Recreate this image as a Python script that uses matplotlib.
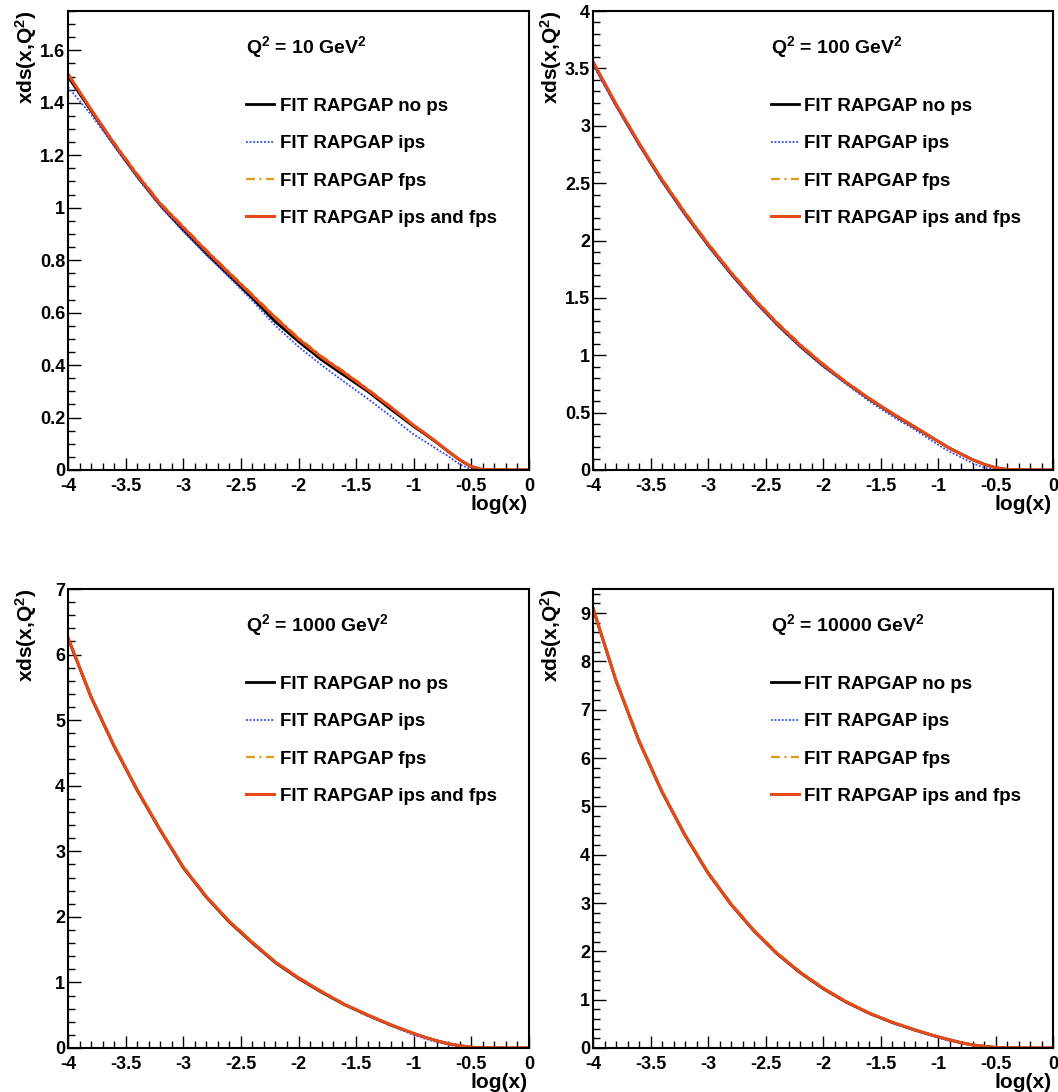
import matplotlib
matplotlib.use("Agg")
import matplotlib.pyplot as plt
from matplotlib.ticker import MultipleLocator, FuncFormatter

plt.rcParams.update(
    {
        "font.family": ["Liberation Sans", "DejaVu Sans"],
        "font.weight": "bold",
        "axes.labelweight": "bold",
        "font.size": 13,
        "axes.unicode_minus": False,
        "mathtext.fontset": "custom",
        "mathtext.rm": "Liberation Sans:bold",
        "mathtext.bf": "Liberation Sans:bold",
        "mathtext.it": "Liberation Sans:bold",
    }
)

LABELS = [
    "FIT RAPGAP no ps",
    "FIT RAPGAP ips",
    "FIT RAPGAP fps",
    "FIT RAPGAP ips and fps",
]
Q2_VALUES = ["10", "100", "1000", "10000"]

# log(x) grid, shared by all curves of a panel
LOGX = [-4.0, -3.8, -3.6, -3.4, -3.2, -3.0, -2.8, -2.6, -2.4, -2.2, -2.0,
        -1.8, -1.6, -1.4, -1.2, -1.0, -0.9, -0.8, -0.7, -0.6, -0.5, -0.4,
        -0.2, 0.0]

# Q2 = 10
nops_10 = [1.50, 1.37, 1.24, 1.12, 1.01, 0.915, 0.825, 0.74, 0.655, 0.565, 0.49,
           0.42, 0.36, 0.30, 0.232, 0.166, 0.136, 0.104, 0.07, 0.038, 0.012, 0.001,
           0.0, 0.0]
ips_10 = [1.46, 1.355, 1.235, 1.115, 1.005, 0.91, 0.82, 0.735, 0.645, 0.55, 0.47,
          0.40, 0.335, 0.272, 0.205, 0.135, 0.108, 0.08, 0.052, 0.022, 0.002, 0.0,
          0.0, 0.0]
fps_10 = [1.51, 1.375, 1.25, 1.13, 1.02, 0.93, 0.84, 0.755, 0.67, 0.585, 0.505,
          0.435, 0.375, 0.31, 0.243, 0.172, 0.14, 0.107, 0.072, 0.039, 0.013, 0.002,
          0.0, 0.0]
both_10 = [1.51, 1.375, 1.245, 1.125, 1.015, 0.925, 0.835, 0.75, 0.665, 0.58, 0.50,
           0.43, 0.37, 0.306, 0.24, 0.17, 0.139, 0.106, 0.071, 0.039, 0.013, 0.002,
           0.0, 0.0]

# Q2 = 100
nops_100 = [3.55, 3.18, 2.84, 2.52, 2.23, 1.96, 1.71, 1.48, 1.27, 1.08, 0.91,
            0.76, 0.62, 0.49, 0.37, 0.25, 0.19, 0.14, 0.09, 0.05, 0.02, 0.005,
            0.0, 0.0]
ips_100 = [3.53, 3.17, 2.83, 2.51, 2.22, 1.95, 1.70, 1.47, 1.26, 1.07, 0.90,
           0.75, 0.60, 0.47, 0.35, 0.22, 0.16, 0.11, 0.06, 0.02, 0.003, 0.0,
           0.0, 0.0]
fps_100 = [3.56, 3.19, 2.85, 2.54, 2.25, 1.98, 1.73, 1.50, 1.29, 1.10, 0.93,
           0.77, 0.63, 0.50, 0.38, 0.255, 0.195, 0.14, 0.09, 0.05, 0.02, 0.005,
           0.0, 0.0]
both_100 = [3.56, 3.19, 2.85, 2.53, 2.24, 1.97, 1.72, 1.49, 1.28, 1.09, 0.92,
            0.765, 0.625, 0.495, 0.375, 0.25, 0.19, 0.14, 0.09, 0.05, 0.02, 0.005,
            0.0, 0.0]

# Q2 = 1000
nops_1000 = [6.25, 5.35, 4.6, 3.93, 3.32, 2.75, 2.3, 1.92, 1.6, 1.3, 1.06,
             0.85, 0.66, 0.5, 0.35, 0.22, 0.16, 0.11, 0.065, 0.035, 0.012, 0.002,
             0.0, 0.0]
ips_1000 = [6.24, 5.36, 4.61, 3.94, 3.33, 2.76, 2.31, 1.93, 1.61, 1.31, 1.06,
            0.85, 0.66, 0.49, 0.34, 0.2, 0.14, 0.09, 0.05, 0.02, 0.004, 0.0,
            0.0, 0.0]
fps_1000 = [6.27, 5.37, 4.62, 3.95, 3.34, 2.77, 2.32, 1.94, 1.62, 1.32, 1.08,
            0.87, 0.67, 0.51, 0.36, 0.225, 0.165, 0.112, 0.067, 0.036, 0.012, 0.002,
            0.0, 0.0]
both_1000 = [6.26, 5.36, 4.61, 3.94, 3.33, 2.76, 2.31, 1.93, 1.61, 1.31, 1.07,
             0.86, 0.665, 0.505, 0.355, 0.222, 0.162, 0.11, 0.066, 0.035, 0.012, 0.002,
             0.0, 0.0]

# Q2 = 10000
nops_10000 = [9.1, 7.6, 6.35, 5.3, 4.4, 3.62, 2.97, 2.42, 1.95, 1.56, 1.23,
              0.95, 0.72, 0.53, 0.37, 0.23, 0.17, 0.11, 0.065, 0.035, 0.012, 0.002,
              0.0, 0.0]
ips_10000 = [9.08, 7.61, 6.36, 5.31, 4.41, 3.63, 2.98, 2.43, 1.96, 1.57, 1.23,
             0.95, 0.71, 0.52, 0.36, 0.21, 0.15, 0.095, 0.05, 0.02, 0.004, 0.0,
             0.0, 0.0]
fps_10000 = [9.12, 7.63, 6.38, 5.33, 4.43, 3.65, 3.0, 2.45, 1.98, 1.58, 1.25,
             0.97, 0.73, 0.54, 0.38, 0.235, 0.172, 0.112, 0.066, 0.036, 0.012, 0.002,
             0.0, 0.0]
both_10000 = [9.11, 7.61, 6.36, 5.31, 4.41, 3.63, 2.98, 2.43, 1.96, 1.57, 1.24,
              0.96, 0.725, 0.535, 0.375, 0.232, 0.17, 0.11, 0.065, 0.035, 0.012, 0.002,
              0.0, 0.0]

PANELS = [
    (nops_10, ips_10, fps_10, both_10),
    (nops_100, ips_100, fps_100, both_100),
    (nops_1000, ips_1000, fps_1000, both_1000),
    (nops_10000, ips_10000, fps_10000, both_10000),
]
YMAX = [1.75, 4.0, 7.0, 9.5]
YMAJOR = [0.2, 0.5, 1.0, 1.0]
YMINOR = [0.05, 0.1, 0.2, 0.2]

STYLES = [
    dict(color="black", lw=2.0, ls="-"),
    dict(color="#2a4bff", lw=1.3, ls=(0, (1, 1))),
    dict(color="#dc9a16", lw=1.6, ls=(0, (4, 2, 1, 2))),
    dict(color="#e64a19", lw=2.2, ls="-"),
]

W, H = 1058, 1092
fig = plt.figure(figsize=(W / 100, H / 100), dpi=100)

# axes boxes in pixels: (left, top, right, bottom)
BOXES = [(68, 11, 529, 470), (593, 11, 1053, 470),
         (68, 589, 529, 1048), (593, 589, 1053, 1048)]


def fmt(v, _pos):
    return f"{v:g}"


for i, (box, series) in enumerate(zip(BOXES, PANELS)):
    l, t, r, b = box
    ax = fig.add_axes([l / W, 1 - b / H, (r - l) / W, (b - t) / H])
    for vals, label, st in zip(series, LABELS, STYLES):
        ax.plot(LOGX, vals, label=label, **st)
    ax.set_xlim(-4, 0)
    ax.set_ylim(0, YMAX[i])
    ax.xaxis.set_major_locator(MultipleLocator(0.5))
    ax.xaxis.set_minor_locator(MultipleLocator(0.1))
    ax.yaxis.set_major_locator(MultipleLocator(YMAJOR[i]))
    ax.yaxis.set_minor_locator(MultipleLocator(YMINOR[i]))
    ax.xaxis.set_major_formatter(FuncFormatter(fmt))
    ax.yaxis.set_major_formatter(FuncFormatter(fmt))
    ax.tick_params(which="both", direction="in", top=False, right=False,
                   width=1.0, labelsize=13)
    ax.tick_params(which="major", length=9)
    ax.tick_params(axis="x", which="major", pad=6)
    ax.tick_params(axis="y", which="major", pad=2)
    ax.tick_params(which="minor", length=5)
    for sp in ax.spines.values():
        sp.set_linewidth(1.5)
    ax.set_xlabel("log(x)", loc="right", fontsize=15)
    ax.set_ylabel(r"xds(x,Q$^{2}$)", loc="top", fontsize=15)
    ax.xaxis.set_label_coords(0.996, -0.055)
    ax.yaxis.set_label_coords(-0.062, 1.0)
    ax.text(0.386, 0.922, rf"Q$^{{2}}$ = {Q2_VALUES[i]} GeV$^{{2}}$",
            transform=ax.transAxes, ha="left", va="center", fontsize=14)
    ax.legend(loc="upper left", bbox_to_anchor=(0.386, 0.811), frameon=False,
              borderaxespad=0, borderpad=0, handlelength=1.5, handletextpad=0.3,
              labelspacing=1.08, fontsize=13.5)

fig.savefig("out.png", dpi=100)
